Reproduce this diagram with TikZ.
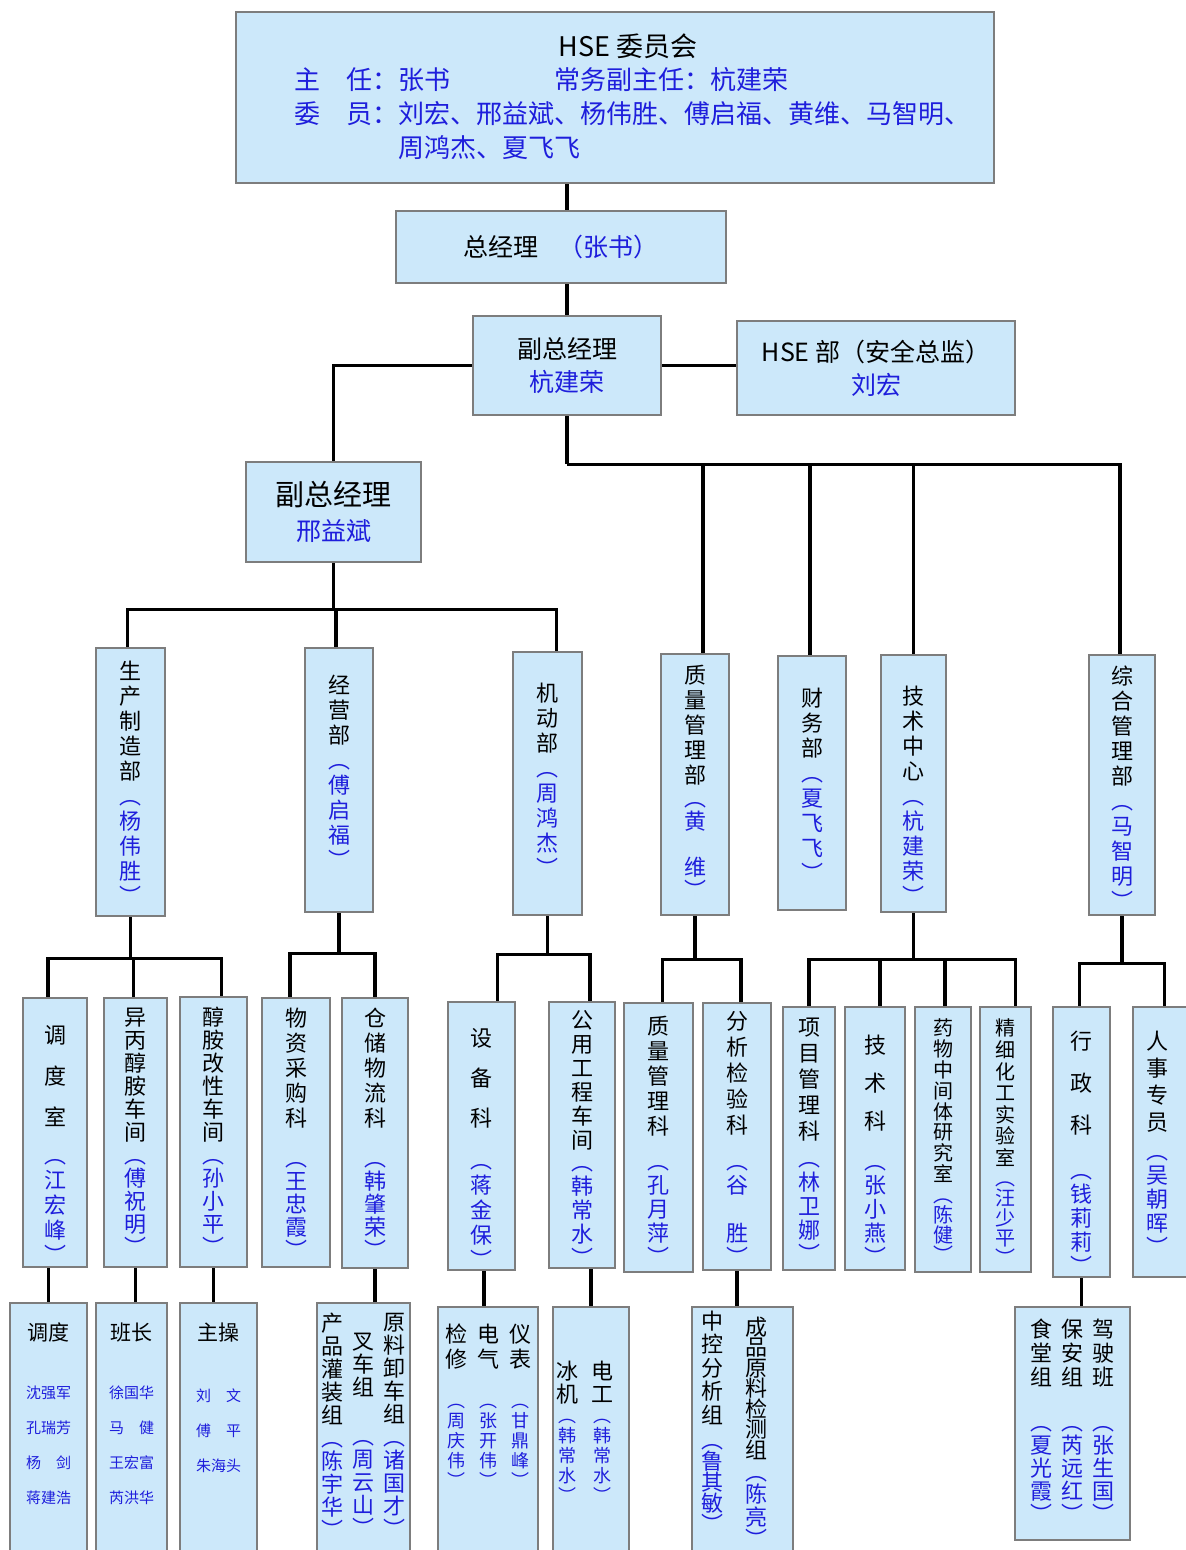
\documentclass[tikz,border=0pt]{standalone}
\usepackage{fontspec}
\newfontfamily\cjk{Noto Sans CJK SC}
\usetikzlibrary{positioning, calc}

\definecolor{BoxBlue}{RGB}{204,232,250}
\definecolor{BoxGrey}{RGB}{125,125,125}
\definecolor{NameBlue}{RGB}{30,30,220}

\newlength{\TitleSkip}\setlength{\TitleSkip}{12.5pt}
\newlength{\NameSkip}\setlength{\NameSkip}{12.5pt}
\newlength{\TopKern}\setlength{\TopKern}{0pt}
\newcommand{\NameFont}{}
\newcommand{\vc}[1]{\vcStep#1\relax}
\def\vcStep#1{\ifx#1\relax\else\hbox to 12pt{\hss#1\hss}\expandafter\vcStep\fi}
\newcommand{\vcol}[3][0pt]{\vtop{\kern\TopKern\baselineskip=\TitleSkip\vc{#2}\vskip#1{\color{NameBlue}\NameFont\baselineskip=\NameSkip\vc{︵#3︶}}}}

\tikzset{BlueBox/.style={
    inner sep=0pt,
    draw=BoxGrey,
    line width=1.4pt,
    fill=BoxBlue,
    align=center,
    font=\cjk\fontsize{12.5}{16.5}\selectfont
    }
}
\tikzset{BoxSize/.style 2 args={
    minimum width=#1*0.5pt,
    minimum height=#2*0.5pt
    }
}
\tikzset{VText/.style={
    inner sep=0pt,
    font=\cjk\fontsize{11}{12.5}\selectfont
    }
}
\tikzset{ListText/.style={
    inner sep=0pt,
    align=center,
    text=NameBlue,
    font=\cjk\fontsize{7.5}{17.5}\selectfont
    }
}
\tikzset{Link/.style={
    draw=black,
    line width=1.6pt
    }
}

\begin{document}
\begin{tikzpicture}[x=0.5pt, y=-0.5pt]
    \useasboundingbox (0,0) rectangle (1186,1550);
    \clip (0,0) rectangle (1186,1550);

    % top of the chart
    \node (hse) [BlueBox, BoxSize={758}{171}] at (615,97.5) {};
    \node (hseT) [VText, font=\cjk\fontsize{13.5}{16}\selectfont, below=11.5pt of hse.north, xshift=6.5pt] {HSE 委员会};
    \node (hseM) [inner sep=0pt, align=left, text=NameBlue, font=\cjk\fontsize{13}{17}\selectfont, below right=28pt and 29.5pt of hse.north west] {主　任：张书\hspace{4em}常务副主任：杭建荣\\委　员：刘宏、邢益斌、杨伟胜、傅启福、黄维、马智明、\\\hspace*{4em}周鸿杰、夏飞飞};

    \node (gm) [BlueBox, BoxSize={330}{72}] at (561,247) {总经理\hspace{0.8em}\textcolor{NameBlue}{（张书）}};
    \node (vpA) [BlueBox, BoxSize={188}{99}] at (567,365.5) {副总经理\\\textcolor{NameBlue}{杭建荣}};
    \node (hsed) [BlueBox, BoxSize={278}{94}] at (876,368) {HSE 部（安全总监）\\\textcolor{NameBlue}{刘宏}};
    \node (vpB) [BlueBox, BoxSize={175}{100}] at (333.5,512) {{\fontsize{14.5}{14.5}\selectfont 副总经理}\\[1pt]\textcolor{NameBlue}{邢益斌}};

    % departments
    \node (scb) [BlueBox, BoxSize={69}{268}] at (130.5,782) {};
    \node (jyb) [BlueBox, BoxSize={68}{264}] at (339,780) {};
    \node (jdb) [BlueBox, BoxSize={69}{263}] at (547.5,783.5) {};
    \node (zlb) [BlueBox, BoxSize={68}{261}] at (695,784.5) {};
    \node (cwb) [BlueBox, BoxSize={68}{254}] at (812,783) {};
    \node (jszx) [BlueBox, BoxSize={65}{257}] at (913.5,783.5) {};
    \node (zhb) [BlueBox, BoxSize={66}{260}] at (1122,785) {};

    \node (scbT) [VText, below=7pt of scb.north] {\vcol{生产制造部}{杨伟胜}};
    \node (jybT) [VText, below=14pt of jyb.north] {\vcol{经营部}{傅启福}};
    \node (jdbT) [VText, below=16pt of jdb.north] {\vcol{机动部}{周鸿杰}};
    \node (zlbT) [VText, below=6pt of zlb.north] {\setlength{\NameSkip}{11.5pt}\vcol{质量管理部}{黄　维}};
    \node (cwbT) [VText, below=16.5pt of cwb.north] {\vcol{财务部}{夏飞飞}};
    \node (jszxT) [VText, below=16pt of jszx.north] {\vcol{技术中心}{杭建荣}};
    \node (zhbT) [VText, below=6pt of zhb.north] {\vcol{综合管理部}{马智明}};

    % sections
    \node (dds) [BlueBox, BoxSize={64}{269}] at (55,1132.5) {};
    \node (ybcj) [BlueBox, BoxSize={63}{269}] at (135.5,1132.5) {};
    \node (gxcj) [BlueBox, BoxSize={67}{270}] at (213.5,1132) {};
    \node (wzk) [BlueBox, BoxSize={68}{269}] at (296,1132.5) {};
    \node (ccwl) [BlueBox, BoxSize={66}{270}] at (375,1133) {};
    \node (sbk) [BlueBox, BoxSize={67}{268}] at (481.5,1136) {};
    \node (gycj) [BlueBox, BoxSize={66}{266}] at (582,1135) {};
    \node (zlk) [BlueBox, BoxSize={69}{269}] at (658.5,1137.5) {};
    \node (fxk) [BlueBox, BoxSize={68}{267}] at (737,1136.5) {};
    \node (xmk) [BlueBox, BoxSize={52}{263}] at (809,1138.5) {};
    \node (jsk) [BlueBox, BoxSize={60}{263}] at (875,1138.5) {};
    \node (ywzj) [BlueBox, BoxSize={56}{265}] at (943,1139.5) {};
    \node (jxhg) [BlueBox, BoxSize={51}{265}] at (1005.5,1139.5) {};
    \node (xzk) [BlueBox, BoxSize={57}{270}] at (1081.5,1142) {};
    \node (rszy) [BlueBox, BoxSize={59}{270}] at (1162.5,1142) {};

    \node (ddsT) [VText, below=14pt of dds.north] {\setlength{\TitleSkip}{20.5pt}\vcol[6.5pt]{调度室}{江宏峰}};
    \node (ybcjT) [VText, below=5.5pt of ybcj.north] {\setlength{\TitleSkip}{11.5pt}\setlength{\NameSkip}{11.5pt}\vcol{异丙醇胺车间}{傅祝明}};
    \node (gxcjT) [VText, below=5.5pt of gxcj.north] {\setlength{\TitleSkip}{11.5pt}\setlength{\NameSkip}{11.5pt}\vcol{醇胺改性车间}{孙小平}};
    \node (wzkT) [VText, below=5.5pt of wzk.north] {\setlength{\NameSkip}{11.5pt}\vcol[8.5pt]{物资采购科}{王忠霞}};
    \node (ccwlT) [VText, below=5.5pt of ccwl.north] {\setlength{\NameSkip}{11.5pt}\vcol[8.5pt]{仓储物流科}{韩肇荣}};
    \node (sbkT) [VText, below=13.5pt of sbk.north] {\setlength{\TitleSkip}{20pt}\vcol[8.5pt]{设备科}{蒋金保}};
    \node (gycjT) [VText, below=4.5pt of gycj.north] {\setlength{\TitleSkip}{12pt}\setlength{\NameSkip}{12pt}\vcol[-1pt]{公用工程车间}{韩常水}};
    \node (zlkT) [VText, below=7pt of zlk.north] {\setlength{\NameSkip}{12pt}\vcol[5.5pt]{质量管理科}{孔月萍}};
    \node (fxkT) [VText, below=4.5pt of fxk.north] {\setlength{\TitleSkip}{13pt}\setlength{\NameSkip}{12pt}\vcol[6pt]{分析检验科}{谷　胜}};
    \node (xmkT) [VText, below=6pt of xmk.north] {\setlength{\TitleSkip}{13pt}\setlength{\NameSkip}{12pt}\vcol[1.5pt]{项目管理科}{林卫娜}};
    \node (jskT) [VText, below=14.5pt of jsk.north] {\setlength{\TitleSkip}{19pt}\setlength{\NameSkip}{12pt}\vcol[8pt]{技术科}{张小燕}};
    \node (ywzjT) [VText, font=\cjk\fontsize{10}{10.5}\selectfont, below=6.5pt of ywzj.north] {\setlength{\TitleSkip}{10.4pt}\setlength{\NameSkip}{10pt}\vcol[0.5pt]{药物中间体研究室}{陈健}};
    \node (jxhgT) [VText, font=\cjk\fontsize{10}{10.5}\selectfont, below=6.5pt of jxhg.north] {\setlength{\TitleSkip}{10.8pt}\setlength{\NameSkip}{10pt}\vcol{精细化工实验室}{汪少平}};
    \node (xzkT) [VText, below=12.5pt of xzk.north] {\setlength{\TitleSkip}{21pt}\setlength{\NameSkip}{12pt}\vcol[10.5pt]{行政科}{钱莉莉}};
    \node (rszyT) [VText, below=12.5pt of rszy.north, xshift=-2.5pt] {\setlength{\TitleSkip}{13.5pt}\setlength{\NameSkip}{12pt}\vcol[2.5pt]{人事专员}{吴朝晖}};

    % teams
    \node (dd) [BlueBox, BoxSize={77}{257}] at (48.5,1431.5) {};
    \node (bz) [BlueBox, BoxSize={71}{257}] at (131.5,1431.5) {};
    \node (zc) [BlueBox, BoxSize={77}{257}] at (218.5,1431.5) {};
    \node (ccz) [BlueBox, BoxSize={93}{257}] at (363.5,1431.5) {};
    \node (jxz) [BlueBox, BoxSize={100}{253}] at (488,1433.5) {};
    \node (gyz) [BlueBox, BoxSize={76}{253}] at (591,1433.5) {};
    \node (fxz) [BlueBox, BoxSize={101}{253}] at (742.5,1433.5) {};
    \node (xzz) [BlueBox, BoxSize={115}{233}] at (1072.5,1423.5) {};

    \node (ddT) [ListText, below=10.5pt of dd.north] {\textcolor{black}{\fontsize{10.5}{10.5}\selectfont 调度}\\[11.5pt]沈强军\\孔瑞芳\\杨　剑\\蒋建浩};
    \node (bzT) [ListText, below=10.5pt of bz.north] {\textcolor{black}{\fontsize{10.5}{10.5}\selectfont 班长}\\[11.5pt]徐国华\\马　健\\王宏富\\芮洪华};
    \node (zcT) [ListText, below=10.5pt of zc.north] {\textcolor{black}{\fontsize{10.5}{10.5}\selectfont 主操}\\[13pt]刘　文\\傅　平\\朱海头};
    \node (cczT) [VText, below=5.5pt of ccz.north] {\setlength{\TitleSkip}{11.5pt}\setlength{\NameSkip}{11.5pt}\vcol{产品灌装组}{陈宇华}\hspace{3.5pt}{\setlength{\TopKern}{10pt}\vcol[13pt]{叉车组}{周云山}}\hspace{3.5pt}\vcol{原料卸车组}{诸国才}};
    \node (jxzT) [VText, below=9pt of jxz.north] {\def\NameFont{\fontsize{9}{10}\selectfont}\setlength{\NameSkip}{10pt}\vcol[10pt]{检修}{周庆伟}\hspace{4pt}\vcol[10pt]{电气}{张开伟}\hspace{4pt}\vcol[10pt]{仪表}{甘鼎峰}};
    \node (gyzT) [VText, below=27.5pt of gyz.north, xshift=-3pt] {\def\NameFont{\fontsize{9}{10}\selectfont}\setlength{\TitleSkip}{11.5pt}\setlength{\NameSkip}{10pt}\vcol{冰机}{韩常水}\hspace{5.5pt}\vcol{电工}{韩常水}};
    \node (fxzT) [VText, below=2.5pt of fxz.north, xshift=-4pt] {\setlength{\TitleSkip}{11.75pt}\setlength{\NameSkip}{10.5pt}\vcol[2pt]{中控分析组}{鲁其敏}\hspace{10pt}{\setlength{\TopKern}{3pt}\setlength{\TitleSkip}{10.25pt}\setlength{\NameSkip}{10pt}\vcol[1pt]{成品原料检测组}{陈亮}}};
    \node (xzzT) [VText, below=6.5pt of xzz.north] {\setlength{\TitleSkip}{12pt}\setlength{\NameSkip}{11.5pt}\vcol[11pt]{食堂组}{夏光霞}\hspace{3.5pt}\vcol[11pt]{保安组}{芮远红}\hspace{3.5pt}\vcol[11pt]{驾驶班}{张生国}};

    % connectors
    \draw[Link] (vpA.north |- hse.south) -- (vpA.north |- gm.north);
    \draw[Link] (vpA.north |- gm.south) -- (vpA.north);
    \draw[Link] (vpA.east) -- (vpA.east -| hsed.west);
    \draw[Link] (vpA.west) -| (vpB.north);

    \coordinate (busA) at ($(vpA.south)+(0,48)$);
    \draw[Link] (vpA.south) -- (busA);
    \foreach \n/\s in {zlb/4, cwb/-1, jszx/0, zhb/-1}
        \draw[Link] ([xshift=\s pt]\n.north) |- (busA);

    \coordinate (busB) at ($(vpB.south)+(0,46)$);
    \draw[Link] (vpB.south) -- (busB);
    \foreach \n/\s in {scb/-1.5, jyb/-1.5, jdb/4.5}
        \draw[Link] ([xshift=\s pt]\n.north) |- (busB);

    \coordinate (busC) at ($(scb.south)+(0,41)$);
    \draw[Link] (scb.south) -- (busC);
    \foreach \n/\s in {dds/-3.5, ybcj/-1, gxcj/4}
        \draw[Link] ([xshift=\s pt]\n.north) |- (busC);

    \coordinate (busD) at ($(jyb.south)+(0,40)$);
    \draw[Link] (jyb.south) -- (busD);
    \foreach \n/\s in {wzk/-3, ccwl/0}
        \draw[Link] ([xshift=\s pt]\n.north) |- (busD);

    \coordinate (busE) at ($(jdb.south)+(0,38)$);
    \draw[Link] (jdb.south) -- (busE);
    \foreach \n/\s in {sbk/8, gycj/4}
        \draw[Link] ([xshift=\s pt]\n.north) |- (busE);

    \coordinate (busF) at ($(zlb.south)+(0,43)$);
    \draw[Link] (zlb.south) -- (busF);
    \foreach \n/\s in {zlk/2, fxk/2}
        \draw[Link] ([xshift=\s pt]\n.north) |- (busF);

    \coordinate (busG) at ($(jszx.south)+(0,46)$);
    \draw[Link] (jszx.south) -- (busG);
    \foreach \n/\s in {xmk/0, jsk/2.5, ywzj/1, jxhg/5}
        \draw[Link] ([xshift=\s pt]\n.north) |- (busG);

    \coordinate (busH) at ($(zhb.south)+(0,47)$);
    \draw[Link] (zhb.south) -- (busH);
    \foreach \n/\s in {xzk/-1, rszy/1}
        \draw[Link] ([xshift=\s pt]\n.north) |- (busH);

    \draw[Link] (dd.north |- dds.south) -- (dd.north);
    \draw[Link] (ybcj.south) -- (ybcj.south |- bz.north);
    \draw[Link] (gxcj.south) -- (gxcj.south |- zc.north);
    \draw[Link] (ccwl.south) -- (ccwl.south |- ccz.north);
    \draw[Link] ([xshift=-2pt]jxz.north |- sbk.south) -- ([xshift=-2pt]jxz.north);
    \draw[Link] (gyz.north |- gycj.south) -- (gyz.north);
    \draw[Link] (fxk.south) -- (fxk.south |- fxz.north);
    \draw[Link] (xzk.south) -- (xzk.south |- xzz.north);

\end{tikzpicture}
\end{document}
